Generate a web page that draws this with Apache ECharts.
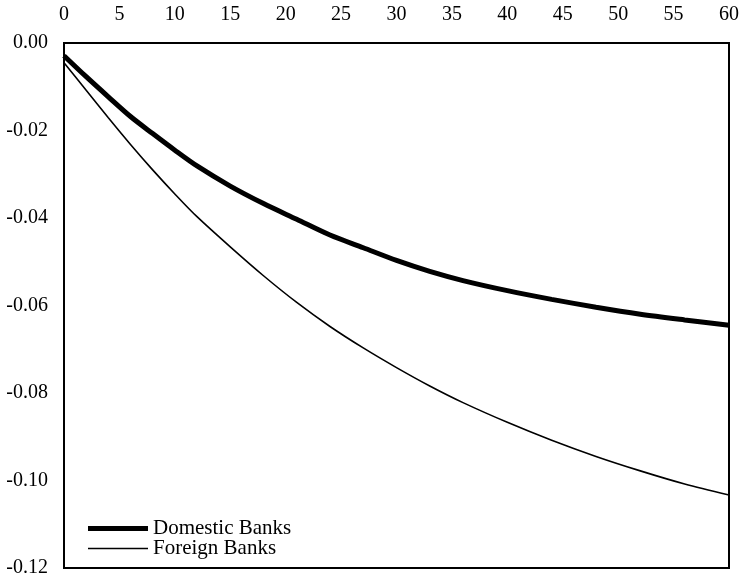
<!DOCTYPE html>
<html>
<head>
<meta charset="utf-8">
<script src="https://cdn.jsdelivr.net/npm/echarts@6/dist/echarts.min.js"></script>
<style>html,body{margin:0;padding:0;background:#fff}#c{width:742px;height:579px}</style>
</head>
<body>
<div id="c"></div>
<script>
var periods = [0, 2, 4, 6, 8, 10, 12, 15, 18, 21, 24, 27, 30, 33, 36, 40, 44, 48, 52, 56, 60];
var domestic = [-0.0029, -0.0077, -0.0123, -0.0168, -0.0207, -0.0245, -0.0281, -0.0327, -0.0367, -0.0403, -0.0439, -0.0468, -0.0497, -0.0522, -0.0543, -0.0566, -0.0586, -0.0604, -0.0620, -0.0633, -0.0645];
var foreign = [-0.0045, -0.0108, -0.0171, -0.0232, -0.0290, -0.0345, -0.0397, -0.0466, -0.0532, -0.0593, -0.0648, -0.0697, -0.0742, -0.0784, -0.0822, -0.0867, -0.0908, -0.0945, -0.0978, -0.1008, -0.1033];
var seriesNames = ['Domestic Banks', 'Foreign Banks'];

function pairs(xs, ys) { return xs.map(function (x, i) { return [x, ys[i]]; }); }

var font = 'Liberation Serif';
var legendText = { color: '#000', fontFamily: font, fontSize: 21 };
var chart = echarts.init(document.getElementById('c'), null, { renderer: 'canvas' });
chart.setOption({
  animation: false,
  backgroundColor: '#fff',
  grid: { left: 64, top: 43, right: 13, bottom: 11, show: true, borderColor: '#000', borderWidth: 2, backgroundColor: 'transparent' },
  xAxis: {
    type: 'value', position: 'top', min: 0, max: 60, interval: 5,
    axisLine: { show: true, lineStyle: { color: '#000', width: 2 } },
    axisTick: { show: false },
    splitLine: { show: false },
    axisLabel: { color: '#000', fontFamily: font, fontSize: 20, margin: 18 }
  },
  yAxis: {
    type: 'value', min: -0.12, max: 0, interval: 0.02,
    axisLine: { show: true, lineStyle: { color: '#000', width: 2 } },
    axisTick: { show: false },
    splitLine: { show: false },
    axisLabel: { color: '#000', fontFamily: font, fontSize: 20, margin: 16,
      formatter: function (v) { return v.toFixed(2); } }
  },
  legend: [
    { left: 88, top: 518, padding: 0, icon: 'rect', itemWidth: 60, itemHeight: 5, itemGap: 0,
      textStyle: legendText, data: [seriesNames[0]] },
    { left: 88, top: 538, padding: 0, icon: 'rect', itemWidth: 60, itemHeight: 1.5, itemGap: 0,
      textStyle: legendText, data: [seriesNames[1]] }
  ],
  series: [
    { name: seriesNames[0], type: 'line', data: pairs(periods, domestic), showSymbol: false, symbol: 'none', smooth: 0.3,
      lineStyle: { color: '#000', width: 5 }, itemStyle: { color: '#000' } },
    { name: seriesNames[1], type: 'line', data: pairs(periods, foreign), showSymbol: false, symbol: 'none', smooth: 0.3,
      lineStyle: { color: '#000', width: 1.6 }, itemStyle: { color: '#000' } }
  ]
});
</script>
</body>
</html>
